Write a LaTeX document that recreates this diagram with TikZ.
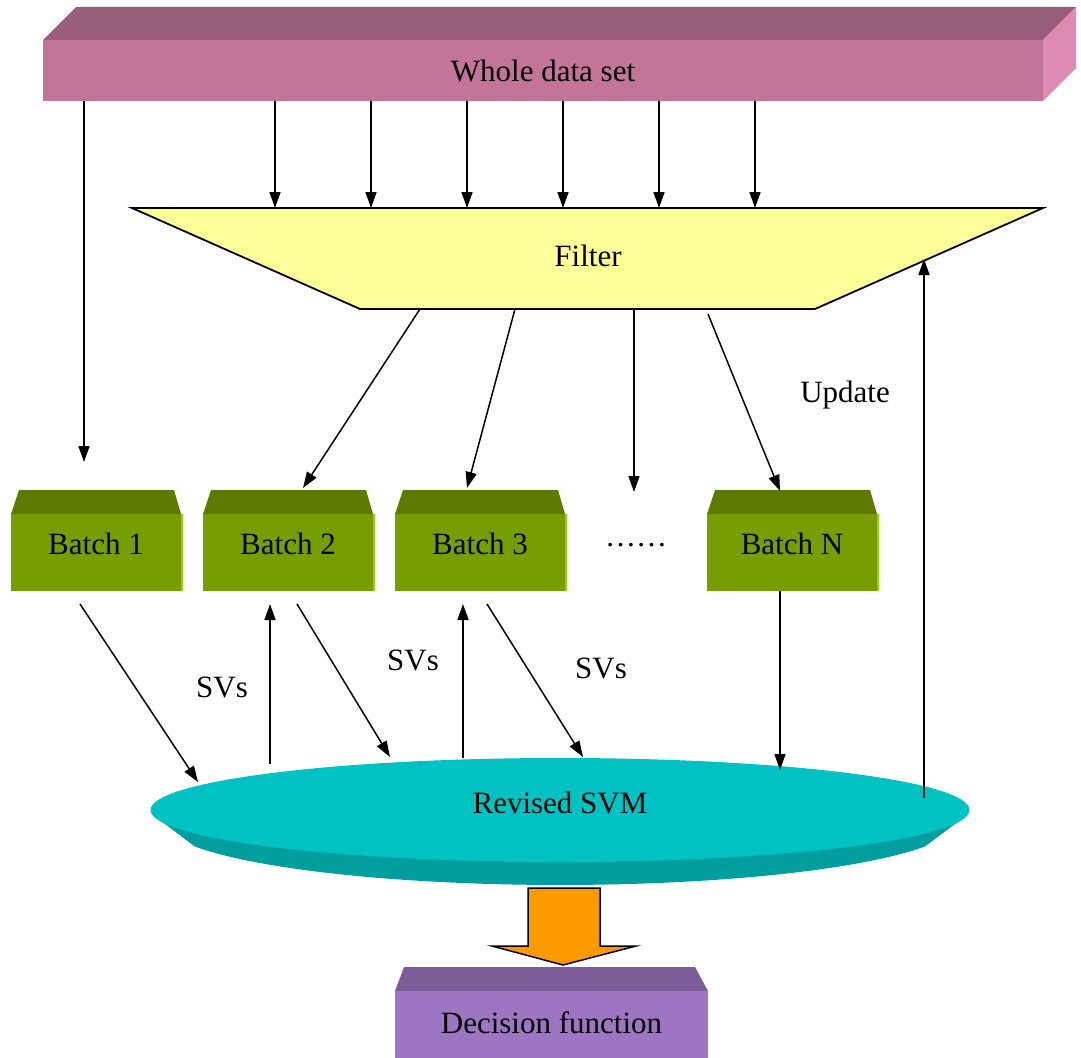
\documentclass[tikz,border=0pt]{standalone}
\usepackage{fontspec}
\setmainfont{Liberation Serif}
\usetikzlibrary{arrows.meta,calc,shapes.geometric}

\definecolor{dsFront}{HTML}{C27599}
\definecolor{dsTop}{HTML}{995E7A}
\definecolor{dsSide}{HTML}{DF8AB4}
\definecolor{filterFill}{HTML}{FFFF99}
\definecolor{batchFront}{HTML}{769E00}
\definecolor{batchTop}{HTML}{5C7A00}
\definecolor{batchEdge}{HTML}{9CCC10}
\definecolor{svmTop}{HTML}{00C2C2}
\definecolor{svmSide}{HTML}{009E9E}
\definecolor{outArrow}{HTML}{FF9900}
\definecolor{decFront}{HTML}{9E75C2}
\definecolor{decTop}{HTML}{7B5C99}

\begin{document}
\begin{tikzpicture}[x=1pt,y=-1pt,
  arr/.style={line width=1.5pt,-{Triangle[length=16pt,width=11pt]}},
  lbl/.style={font=\fontsize{31}{36}\selectfont},
  batchbox/.style={fill=batchFront,minimum width=170pt,minimum height=77pt,inner sep=0pt,
    lbl,text height=21pt,text depth=17pt},
]
\useasboundingbox (0,0) rectangle (1081,1057);

% whole data set bar (3-D slab)
\fill[dsTop] (43,40) -- (76,7) -- (1076,7) -- (1043,40) -- cycle;
\fill[dsSide] (1043,40) -- (1076,7) -- (1076,68) -- (1043,101) -- cycle;
\node[fill=dsFront,minimum width=1000pt,minimum height=61pt,inner sep=0pt,lbl] (data) at (543,70.5) {Whole data set};

% filter funnel
\coordinate (ftl) at (132,208);
\coordinate (ftr) at (1043,208);
\coordinate (fbr) at (815,309);
\coordinate (fbl) at (360,309);
\draw[line width=1.8pt,fill=filterFill,line join=miter] (ftl) -- (ftr) -- (fbr) -- (fbl) -- cycle;
\node[lbl] (filter) at (588,256) {Filter};

% batches
\foreach \n/\cx in {b1/96,b2/288,b3/480,bN/792}{
  \fill[batchTop] (\cx-85,514) -- (\cx-77,490) -- (\cx+78,490) -- (\cx+85,514) -- cycle;
  \fill[batchEdge] (\cx+85,514) rectangle (\cx+87,591);
}
\node[batchbox] (b1) at (96,552.5) {Batch 1};
\node[batchbox] (b2) at (288,552.5) {Batch 2};
\node[batchbox] (b3) at (480,552.5) {Batch 3};
\node[batchbox] (bN) at (792,552.5) {Batch N};
\node[lbl] (dots) at (636,545) {……};

% revised SVM disc
\fill[svmSide] (153,815) -- (195,846.6) arc[start angle=155.8,end angle=24.2,x radius=400,y radius=65] -- (967,815) -- cycle;
\node[ellipse,fill=svmTop,minimum width=819pt,minimum height=104pt,inner sep=0pt,lbl] (svm) at (560,810) {\raisebox{14pt}{Revised SVM}};

% decision function box
\fill[decTop] (395,991) -- (404,967) -- (695,967) -- (708,991) -- cycle;
\node[fill=decFront,minimum width=313pt,minimum height=70pt,inner sep=0pt,lbl,anchor=north] (dec) at (551.5,991) {\raisebox{8pt}{Decision function}};

% output arrow
\draw[line width=1.5pt,fill=outArrow,line join=miter]
  (528,888) -- (600,888) -- (600,946) -- (636,946) -- (563,965) -- (492,946) -- (528,946) -- cycle;

% data set into filter and first batch
\foreach \x in {275,371,467,563,659,755}
  \draw[arr] (\x,0 |- data.south) -- (\x,0 |- ftl);
\coordinate (b1in) at (84,462);
\draw[arr] (84,0 |- data.south) -- (b1in);

% filter out to batches
\coordinate (dotsin) at (634,492);
\draw[arr] (420,309) -- (303,488);
\draw[arr] (515,309) -- (467,488);
\draw[arr] (634,309) -- (dotsin);
\draw[arr] (708,314) -- (780,491);

% batches and revised SVM
\draw[arr] (80,604) -- (198,782);
\draw[arr] (270,764) -- (270,604);
\draw[arr] (297,604) -- (390,757);
\draw[arr] (463,758) -- (463,604);
\draw[arr] (487,604) -- (583,757);
\draw[arr] (780,0 |- bN.south) -- (780,770);
\draw[arr] (924,798) -- (924,259);

% labels
\node[lbl] (sv1) at (222,687) {SVs};
\node[lbl] (sv2) at (413,660) {SVs};
\node[lbl] (sv3) at (601,668) {SVs};
\node[lbl] (upd) at (845,395) {Update};
\end{tikzpicture}
\end{document}
